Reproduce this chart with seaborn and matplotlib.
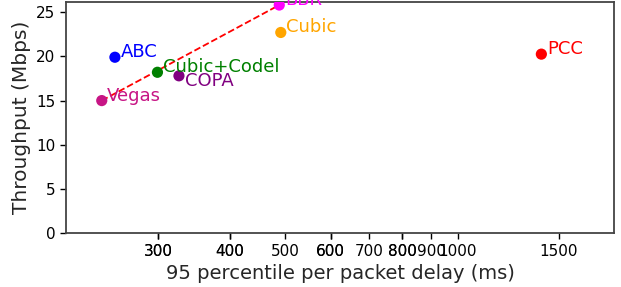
import matplotlib
matplotlib.use("Agg")
import matplotlib.pyplot as plt
import seaborn as sns
import pandas as pd
from matplotlib.ticker import FixedLocator, FixedFormatter

schemes = ["ABC", "Vegas", "Cubic+Codel", "COPA", "BBR", "Cubic", "PCC"]
delay_ms = [252, 239, 299, 326, 488, 491, 1400]
throughput = [19.9, 15.0, 18.2, 17.8, 25.8, 22.7, 20.25]
colors = ["blue", "mediumvioletred", "green", "purple", "magenta", "orange", "red"]
label_below = ["COPA"]
frontier = ["Vegas", "BBR"]
major_ticks = [300, 400, 600, 800]
minor_ticks = [300, 400, 500, 600, 700, 800, 900, 1000, 1500]

df = pd.DataFrame({"scheme": schemes, "delay": delay_ms, "tput": throughput})

sns.set_style("white")
fig = plt.figure(figsize=(6.21, 2.87), dpi=100)
ax = fig.add_axes([66/621, 1-233.3/287, (614-66)/621, (233.3-1.5)/287])

sns.scatterplot(data=df, x="delay", y="tput", hue="scheme",
                palette=dict(zip(schemes, colors)), s=65, edgecolor="none",
                legend=False, ax=ax, zorder=3)

fr = df.set_index("scheme").loc[frontier]
ax.plot(fr["delay"], fr["tput"], color="red", linestyle="--", linewidth=1.3, zorder=2)

for s, d, t, c in zip(schemes, delay_ms, throughput, colors):
    off = (4, -7) if s in label_below else (4, 0)
    ax.annotate(s, (d, t), xytext=off, textcoords="offset points",
                va="baseline", ha="left", color=c, fontsize=13)

ax.set_xscale("log")
ax.set_xlim(207, 1875)
ax.set_ylim(0, 26.2)
ax.xaxis.remove_overlapping_locs = False
ax.xaxis.set_major_locator(FixedLocator(major_ticks))
ax.xaxis.set_major_formatter(FixedFormatter([str(v) for v in major_ticks]))
ax.xaxis.set_minor_locator(FixedLocator(minor_ticks))
ax.xaxis.set_minor_formatter(FixedFormatter([str(v) for v in minor_ticks]))
ax.set_yticks([0, 5, 10, 15, 20, 25])

ax.tick_params(axis="both", which="both", direction="out", length=4, width=1,
               pad=3.5, colors="black", labelsize=11, bottom=True, left=True)
for sp in ax.spines.values():
    sp.set_color("#444444")
    sp.set_linewidth(1.3)

ax.set_xlabel("95 percentile per packet delay (ms)", fontsize=14)
ax.set_ylabel("Throughput (Mbps)", fontsize=14.5)

fig.savefig("out.png", dpi=100)
